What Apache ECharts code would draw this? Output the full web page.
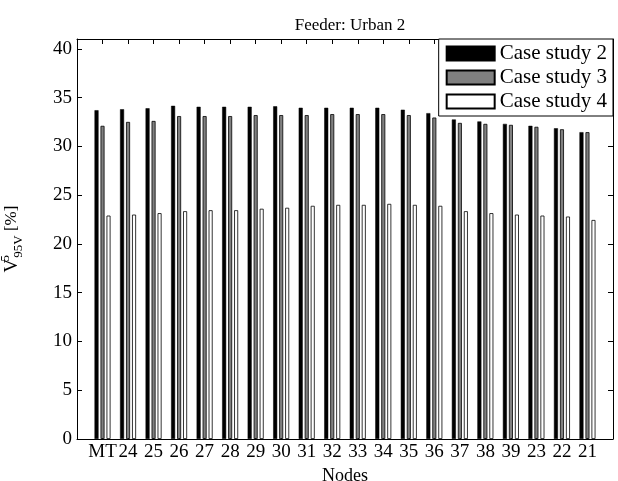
<!DOCTYPE html>
<html>
<head>
<meta charset="utf-8">
<script src="https://cdn.jsdelivr.net/npm/echarts@6/dist/echarts.min.js"></script>
<style>
    html, body { margin: 0; padding: 0; background: #fff; }
    #chart { width: 618px; height: 481px; }
</style>
</head>
<body>
<div id="chart"></div>
<script>
var nodes = ['MT', '24', '25', '26', '27', '28', '29', '30', '31', '32', '33', '34', '35', '36', '37', '38', '39', '23', '22', '21'];
var caseStudy2 = [33.7, 33.8, 33.9, 34.15, 34.05, 34.05, 34.05, 34.1, 33.95, 33.95, 33.95, 33.95, 33.75, 33.4, 32.75, 32.55, 32.3, 32.1, 31.85, 31.45];
var caseStudy3 = [32.1, 32.5, 32.6, 33.1, 33.1, 33.1, 33.2, 33.2, 33.2, 33.3, 33.3, 33.3, 33.2, 32.95, 32.4, 32.3, 32.2, 32.0, 31.75, 31.45];
var caseStudy4 = [22.9, 23.0, 23.15, 23.35, 23.45, 23.45, 23.6, 23.7, 23.9, 24.0, 24.0, 24.1, 24.0, 23.9, 23.35, 23.15, 23.0, 22.9, 22.8, 22.45];
var yTicks = [0, 5, 10, 15, 20, 25, 30, 35, 40];

(function () {
    var font = 'Liberation Serif';

    // bars sit on a value axis from 0 to 21, node i at x = i + 1
    function toPoints(values) {
        var pts = [];
        for (var i = 0; i < values.length; i++) {
            pts.push([i + 1, values[i]]);
        }
        return pts;
    }

    function frameAxis(extra) {
        var axis = {
            type: 'value',
            axisLine: { show: true, onZero: false, lineStyle: { color: '#000', width: 1 } },
            axisTick: { show: true, inside: true, length: 5, lineStyle: { color: '#000' } },
            axisLabel: { show: false },
            splitLine: { show: false }
        };
        for (var k in extra) {
            axis[k] = extra[k];
        }
        return axis;
    }

    var chart = echarts.init(document.getElementById('chart'));

    var option = {
        animation: false,
        backgroundColor: '#fff',
        title: {
            text: 'Feeder: Urban 2',
            left: 345,
            top: 12,
            textAlign: 'center',
            textStyle: { fontFamily: font, fontSize: 17, fontWeight: 'normal', color: '#000' }
        },
        legend: {
            orient: 'vertical',
            right: 5,
            top: 39,
            itemWidth: 48,
            itemHeight: 14,
            itemGap: 3,
            padding: [4, 6, 4, 7],
            borderColor: '#000',
            borderWidth: 1,
            borderRadius: 0,
            backgroundColor: '#fff',
            icon: 'rect',
            textStyle: { fontFamily: font, fontSize: 21, color: '#000' },
            data: ['Case study 2', 'Case study 3', 'Case study 4']
        },
        grid: { left: 77, right: 5, top: 39, bottom: 42, containLabel: false, outerBoundsMode: 'none' },
        xAxis: [frameAxis({
            min: 0,
            max: 21,
            interval: 1,
            name: 'Nodes',
            nameLocation: 'middle',
            nameGap: 27,
            nameTextStyle: { fontFamily: font, fontSize: 18, color: '#000' },
            axisLabel: {
                margin: 4,
                fontFamily: font,
                fontSize: 19,
                color: '#000',
                formatter: function (v) { return nodes[v - 1] || ''; }
            }
        }), frameAxis({
            position: 'top',
            min: 0,
            max: 21,
            interval: 1
        })],
        yAxis: [frameAxis({
            min: 0,
            max: 41,
            interval: 5,
            name: '{v|V}{sup|5}{sub|95V}{u| [%]}',
            nameLocation: 'middle',
            nameGap: 52,
            nameTextStyle: {
                fontFamily: font,
                color: '#000',
                rich: {
                    v: { fontFamily: font, fontSize: 19, lineHeight: 26, color: '#000' },
                    sup: { fontFamily: font, fontSize: 13, lineHeight: 13, verticalAlign: 'top', width: 1, color: '#000' },
                    sub: { fontFamily: font, fontSize: 13, lineHeight: 13, verticalAlign: 'bottom', color: '#000' },
                    u: { fontFamily: font, fontSize: 17, lineHeight: 26, color: '#000' }
                }
            },
            axisLabel: {
                margin: 5,
                fontFamily: font,
                fontSize: 19,
                color: '#000',
                formatter: function (v) { return yTicks.indexOf(v) >= 0 ? String(v) : ''; }
            }
        }), frameAxis({
            position: 'right',
            min: 0,
            max: 41,
            interval: 5
        })],
        series: [{
            name: 'Case study 2',
            type: 'bar',
            barWidth: 4,
            barGap: '50%',
            itemStyle: { color: '#000', borderColor: '#000', borderWidth: 0.5 },
            data: toPoints(caseStudy2)
        }, {
            name: 'Case study 3',
            type: 'bar',
            barWidth: 4,
            barGap: '50%',
            itemStyle: { color: '#808080', borderColor: '#000', borderWidth: 0.8 },
            data: toPoints(caseStudy3)
        }, {
            name: 'Case study 4',
            type: 'bar',
            barWidth: 4,
            barGap: '50%',
            itemStyle: { color: '#fff', borderColor: '#000', borderWidth: 0.8 },
            data: toPoints(caseStudy4)
        }]
    };

    chart.setOption(option);
})();
</script>
</body>
</html>
